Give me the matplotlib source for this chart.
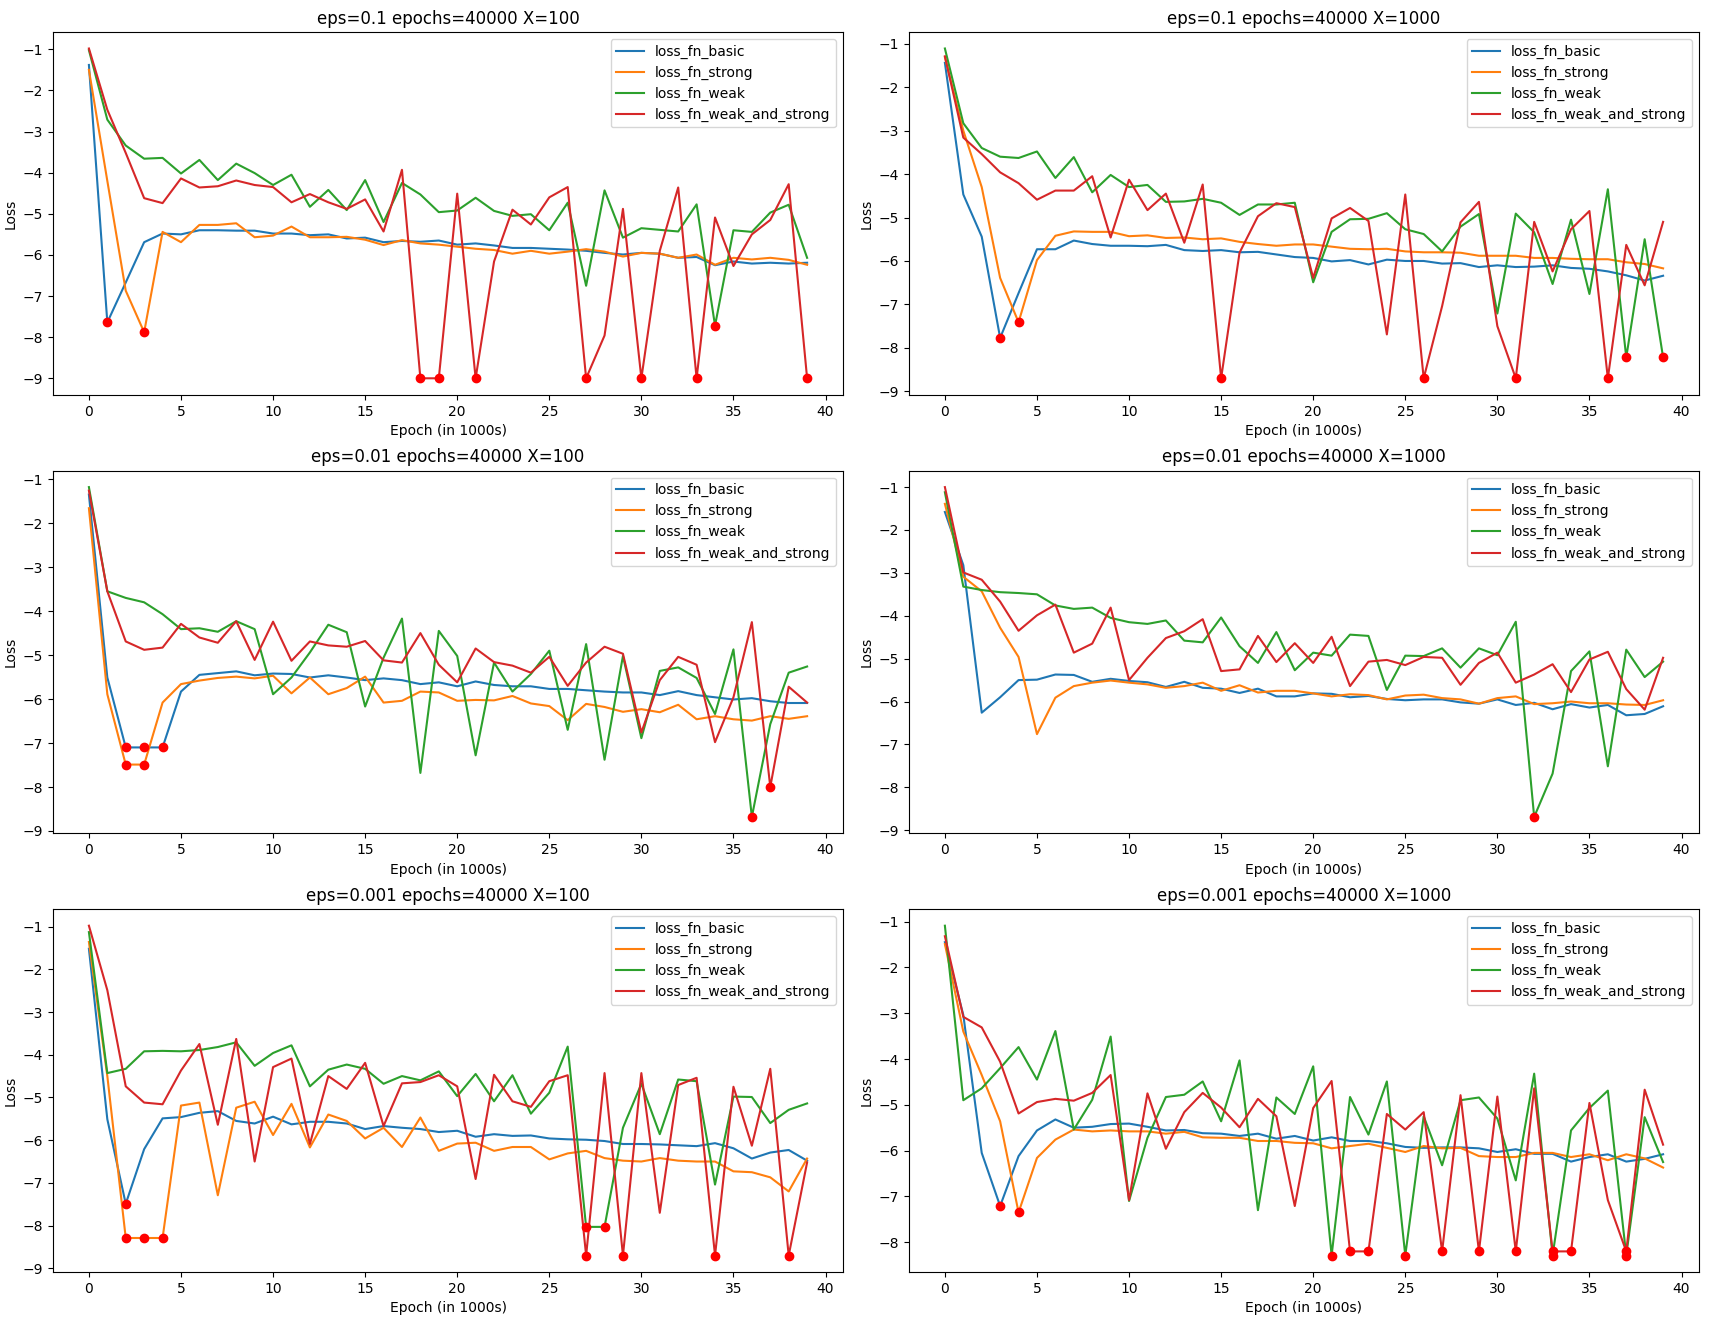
import matplotlib
matplotlib.use("Agg")
import matplotlib.pyplot as plt
import numpy as np

epochs = list(range(40))
series_names = ["loss_fn_basic", "loss_fn_strong", "loss_fn_weak", "loss_fn_weak_and_strong"]
titles = [
    "eps=0.1 epochs=40000 X=100", "eps=0.1 epochs=40000 X=1000",
    "eps=0.01 epochs=40000 X=100", "eps=0.01 epochs=40000 X=1000",
    "eps=0.001 epochs=40000 X=100", "eps=0.001 epochs=40000 X=1000",
]

# ---- panel 1: eps=0.1 X=100
p1_basic = [-1.38, -7.64, -6.67, -5.69, -5.48, -5.50, -5.40, -5.40, -5.41, -5.41,
            -5.48, -5.48, -5.52, -5.50, -5.60, -5.58, -5.69, -5.66, -5.68, -5.65,
            -5.75, -5.72, -5.77, -5.83, -5.83, -5.85, -5.87, -5.90, -5.95, -5.99,
            -5.95, -5.97, -6.07, -6.05, -6.25, -6.16, -6.21, -6.19, -6.21, -6.19]
p1_strong = [-1.50, -4.20, -6.87, -7.88, -5.44, -5.69, -5.27, -5.27, -5.23, -5.57,
             -5.53, -5.31, -5.57, -5.57, -5.56, -5.63, -5.76, -5.64, -5.72, -5.75,
             -5.80, -5.85, -5.88, -5.97, -5.90, -5.97, -5.92, -5.86, -5.92, -6.04,
             -5.95, -5.97, -6.07, -5.99, -6.24, -6.07, -6.11, -6.07, -6.12, -6.24]
p1_weak = [-1.02, -2.71, -3.34, -3.66, -3.64, -4.02, -3.69, -4.18, -3.78, -4.01,
           -4.30, -4.05, -4.83, -4.42, -4.91, -4.18, -5.20, -4.25, -4.53, -4.96,
           -4.92, -4.61, -4.93, -5.05, -5.01, -5.40, -4.73, -6.75, -4.43, -5.58,
           -5.35, -5.39, -5.43, -4.77, -7.72, -5.40, -5.44, -4.97, -4.78, -6.07]
p1_ws = [-0.98, -2.47, -3.52, -4.62, -4.74, -4.14, -4.36, -4.33, -4.19, -4.30,
         -4.35, -4.72, -4.52, -4.72, -4.88, -4.65, -5.43, -3.93, -9.00, -9.00,
         -4.51, -9.00, -6.16, -4.90, -5.26, -4.60, -4.35, -9.00, -7.96, -4.88,
         -9.00, -5.90, -4.36, -9.00, -5.09, -6.27, -5.50, -5.15, -4.28, -9.00]
p1_marks = [[1], [3], [34], [18, 19, 21, 27, 30, 33, 39]]

# ---- panel 2: eps=0.1 X=1000
p2_basic = [-1.44, -4.47, -5.44, -7.77, -6.74, -5.73, -5.73, -5.53, -5.61, -5.65,
            -5.65, -5.66, -5.63, -5.75, -5.77, -5.75, -5.80, -5.79, -5.85, -5.91,
            -5.93, -6.01, -5.98, -6.08, -5.97, -6.00, -6.00, -6.06, -6.05, -6.14,
            -6.10, -6.14, -6.13, -6.10, -6.16, -6.18, -6.24, -6.33, -6.45, -6.34]
p2_strong = [-1.31, -3.00, -4.30, -6.39, -7.41, -5.98, -5.42, -5.32, -5.33, -5.33,
             -5.43, -5.41, -5.47, -5.46, -5.50, -5.48, -5.56, -5.61, -5.65, -5.62,
             -5.62, -5.67, -5.72, -5.73, -5.72, -5.78, -5.80, -5.80, -5.81, -5.88,
             -5.88, -5.88, -5.93, -5.93, -5.95, -5.96, -5.96, -6.03, -6.07, -6.17]
p2_weak = [-1.11, -2.83, -3.40, -3.60, -3.63, -3.48, -4.09, -3.61, -4.42, -4.02,
           -4.30, -4.25, -4.64, -4.63, -4.57, -4.66, -4.94, -4.70, -4.70, -4.66,
           -6.49, -5.33, -5.04, -5.03, -4.90, -5.27, -5.38, -5.78, -5.21, -4.92,
           -7.21, -4.91, -5.34, -6.53, -5.05, -6.76, -4.35, -8.22, -5.50, -8.22]
p2_ws = [-1.29, -3.16, -3.54, -3.96, -4.21, -4.59, -4.38, -4.38, -4.05, -5.46,
         -4.13, -4.83, -4.45, -5.58, -4.24, -8.70, -5.81, -4.97, -4.67, -4.76,
         -6.39, -5.02, -4.78, -5.08, -7.69, -4.47, -8.70, -7.04, -5.11, -4.64,
         -7.50, -8.70, -5.10, -6.24, -5.27, -4.85, -8.70, -5.63, -6.56, -5.10]
p2_marks = [[3], [4], [37, 39], [15, 26, 31, 36]]

# ---- panel 3: eps=0.01 X=100
p3_basic = [-1.35, -5.51, -7.10, -7.10, -7.10, -5.83, -5.45, -5.41, -5.37, -5.46,
            -5.42, -5.43, -5.51, -5.46, -5.51, -5.57, -5.53, -5.57, -5.66, -5.62,
            -5.71, -5.60, -5.68, -5.71, -5.71, -5.77, -5.77, -5.80, -5.83, -5.85,
            -5.85, -5.91, -5.82, -5.91, -5.96, -6.01, -5.98, -6.05, -6.09, -6.09]
p3_strong = [-1.66, -5.89, -7.49, -7.49, -6.08, -5.66, -5.58, -5.52, -5.49, -5.53,
             -5.47, -5.87, -5.51, -5.89, -5.75, -5.49, -6.08, -6.04, -5.83, -5.85,
             -6.04, -6.02, -6.03, -5.93, -6.10, -6.16, -6.48, -6.11, -6.18, -6.29,
             -6.23, -6.30, -6.13, -6.46, -6.39, -6.46, -6.49, -6.39, -6.45, -6.39]
p3_weak = [-1.18, -3.55, -3.70, -3.80, -4.07, -4.41, -4.39, -4.47, -4.23, -4.41,
           -5.89, -5.51, -4.94, -4.31, -4.48, -6.17, -5.06, -4.17, -7.68, -4.45,
           -5.02, -7.28, -5.17, -5.83, -5.43, -4.90, -6.70, -4.75, -7.38, -5.02,
           -6.89, -5.36, -5.28, -5.52, -6.34, -4.87, -8.68, -6.57, -5.40, -5.26]
p3_ws = [-1.26, -3.55, -4.69, -4.88, -4.83, -4.29, -4.60, -4.72, -4.23, -5.11,
         -4.24, -5.13, -4.69, -4.78, -4.81, -4.68, -5.12, -5.17, -4.50, -5.22,
         -5.62, -4.85, -5.16, -5.24, -5.40, -5.04, -5.70, -5.17, -4.81, -4.97,
         -6.76, -5.57, -5.04, -5.22, -6.98, -5.96, -4.25, -8.00, -5.72, -6.08]
p3_marks = [[2, 3, 4], [2, 3], [36], [37]]

# ---- panel 4: eps=0.01 X=1000
p4_basic = [-1.58, -2.82, -6.26, -5.90, -5.50, -5.49, -5.37, -5.38, -5.54, -5.47,
            -5.52, -5.55, -5.66, -5.54, -5.68, -5.70, -5.80, -5.70, -5.88, -5.88,
            -5.81, -5.82, -5.90, -5.87, -5.94, -5.97, -5.95, -5.95, -6.02, -6.05,
            -5.95, -6.08, -6.03, -6.18, -6.06, -6.14, -6.08, -6.32, -6.29, -6.11]
p4_strong = [-1.39, -3.09, -3.43, -4.28, -4.96, -6.76, -5.91, -5.64, -5.56, -5.51,
             -5.56, -5.60, -5.68, -5.64, -5.56, -5.75, -5.62, -5.79, -5.75, -5.75,
             -5.81, -5.88, -5.83, -5.85, -5.95, -5.86, -5.84, -5.92, -5.95, -6.05,
             -5.92, -5.88, -6.06, -6.04, -6.00, -6.04, -6.04, -6.07, -6.08, -5.97]
p4_weak = [-1.12, -3.32, -3.40, -3.45, -3.47, -3.50, -3.76, -3.84, -3.81, -4.05,
           -4.15, -4.19, -4.11, -4.58, -4.62, -4.04, -4.71, -5.10, -4.38, -5.27,
           -4.86, -4.93, -4.44, -4.47, -5.73, -4.93, -4.94, -4.76, -5.21, -4.76,
           -4.92, -4.14, -8.69, -7.68, -5.29, -4.83, -7.51, -4.79, -5.43, -5.07]
p4_ws = [-1.00, -2.99, -3.16, -3.67, -4.35, -3.99, -3.74, -4.86, -4.65, -3.81,
         -5.50, -4.98, -4.52, -4.36, -4.08, -5.29, -5.25, -4.47, -5.08, -4.64,
         -5.10, -4.49, -5.64, -5.07, -5.03, -5.15, -4.96, -4.98, -5.61, -5.10,
         -4.86, -5.56, -5.37, -5.13, -5.78, -5.02, -4.84, -5.71, -6.19, -4.98]
p4_marks = [[], [], [32], []]

# ---- panel 5: eps=0.001 X=100
p5_basic = [-1.52, -5.51, -7.49, -6.21, -5.49, -5.46, -5.36, -5.32, -5.55, -5.61,
            -5.45, -5.63, -5.57, -5.57, -5.61, -5.74, -5.67, -5.71, -5.74, -5.81,
            -5.78, -5.92, -5.86, -5.90, -5.89, -5.96, -5.98, -5.99, -6.02, -6.09,
            -6.09, -6.10, -6.12, -6.14, -6.07, -6.19, -6.43, -6.29, -6.23, -6.48]
p5_strong = [-1.36, -4.50, -8.29, -8.29, -8.29, -5.19, -5.12, -7.29, -5.24, -5.10,
             -5.88, -5.15, -6.17, -5.40, -5.55, -5.96, -5.71, -6.16, -5.47, -6.25,
             -6.08, -6.06, -6.25, -6.16, -6.16, -6.45, -6.31, -6.25, -6.42, -6.48,
             -6.50, -6.42, -6.48, -6.50, -6.50, -6.73, -6.75, -6.87, -7.20, -6.43]
p5_weak = [-1.13, -4.43, -4.33, -3.92, -3.91, -3.92, -3.89, -3.82, -3.71, -4.26,
           -3.96, -3.78, -4.74, -4.35, -4.23, -4.33, -4.68, -4.50, -4.60, -4.39,
           -4.97, -4.45, -5.09, -4.48, -5.38, -4.89, -3.81, -8.03, -8.03, -5.71,
           -4.68, -5.86, -4.58, -4.62, -7.04, -4.98, -4.99, -5.60, -5.29, -5.14]
p5_ws = [-0.98, -2.49, -4.74, -5.12, -5.16, -4.37, -3.75, -5.64, -3.63, -6.50,
         -4.29, -4.09, -6.09, -4.50, -4.80, -4.19, -5.67, -4.67, -4.64, -4.48,
         -4.74, -6.91, -4.47, -5.09, -5.22, -4.62, -4.48, -8.70, -4.43, -8.70,
         -4.43, -7.70, -4.71, -4.54, -8.70, -4.75, -6.13, -4.33, -8.70, -6.52]
p5_marks = [[2], [2, 3, 4], [27, 28], [27, 29, 34, 38]]

# ---- panel 6: eps=0.001 X=1000
p6_basic = [-1.45, -3.04, -6.05, -7.21, -6.12, -5.56, -5.32, -5.50, -5.48, -5.42,
            -5.41, -5.48, -5.56, -5.55, -5.62, -5.63, -5.68, -5.63, -5.74, -5.68,
            -5.78, -5.71, -5.79, -5.79, -5.84, -5.92, -5.94, -5.93, -5.93, -5.95,
            -6.03, -5.97, -6.07, -6.07, -6.24, -6.14, -6.08, -6.24, -6.18, -6.08]
p6_strong = [-1.49, -3.40, -4.35, -5.36, -7.35, -6.16, -5.76, -5.54, -5.58, -5.56,
             -5.58, -5.58, -5.63, -5.59, -5.71, -5.72, -5.72, -5.79, -5.79, -5.83,
             -5.84, -5.95, -5.90, -5.85, -5.94, -6.03, -5.90, -5.95, -5.94, -6.12,
             -6.14, -6.14, -6.05, -6.05, -6.14, -6.08, -6.21, -6.08, -6.17, -6.37]
p6_weak = [-1.09, -4.90, -4.64, -4.20, -3.74, -4.45, -3.39, -5.54, -4.89, -3.51,
           -7.10, -5.72, -4.83, -4.78, -4.49, -5.36, -4.03, -7.30, -4.84, -5.20,
           -4.16, -8.29, -4.83, -5.65, -4.49, -8.29, -5.25, -6.32, -4.90, -4.84,
           -5.30, -6.65, -4.32, -8.29, -5.56, -5.07, -4.69, -8.29, -5.27, -6.25]
p6_ws = [-1.32, -3.08, -3.31, -4.06, -5.19, -4.94, -4.87, -4.91, -4.74, -4.35,
         -7.08, -4.75, -5.96, -5.16, -4.74, -5.06, -5.49, -4.87, -5.25, -7.21,
         -5.07, -4.48, -8.20, -8.20, -5.20, -5.54, -5.16, -8.20, -4.79, -8.20,
         -4.82, -8.20, -4.64, -8.20, -8.20, -4.96, -7.08, -8.20, -4.67, -5.87]
p6_marks = [[3], [4], [21, 25, 33, 37], [22, 23, 27, 29, 31, 33, 34, 37]]

panels = [
    ([p1_basic, p1_strong, p1_weak, p1_ws], p1_marks),
    ([p2_basic, p2_strong, p2_weak, p2_ws], p2_marks),
    ([p3_basic, p3_strong, p3_weak, p3_ws], p3_marks),
    ([p4_basic, p4_strong, p4_weak, p4_ws], p4_marks),
    ([p5_basic, p5_strong, p5_weak, p5_ws], p5_marks),
    ([p6_basic, p6_strong, p6_weak, p6_ws], p6_marks),
]

fig, axes = plt.subplots(3, 2, figsize=(17.19, 13.40), dpi=100)
fig.subplots_adjust(left=53 / 1719, right=1699 / 1719, top=1 - 32 / 1340,
                    bottom=1 - 1272 / 1340, wspace=0.0835, hspace=0.209)

for ax, title, (series, marks) in zip(axes.flat, titles, panels):
    for name, vals in zip(series_names, series):
        ax.plot(epochs, vals, label=name)
    for vals, idx in zip(series, marks):
        if idx:
            ax.plot([epochs[i] for i in idx], [vals[i] for i in idx], "o",
                    color="red", markersize=6)
    ax.set_title(title)
    ax.set_xlabel("Epoch (in 1000s)")
    ax.set_ylabel("Loss")
    ax.legend(loc="upper right")

fig.savefig("out.png", dpi=100)
